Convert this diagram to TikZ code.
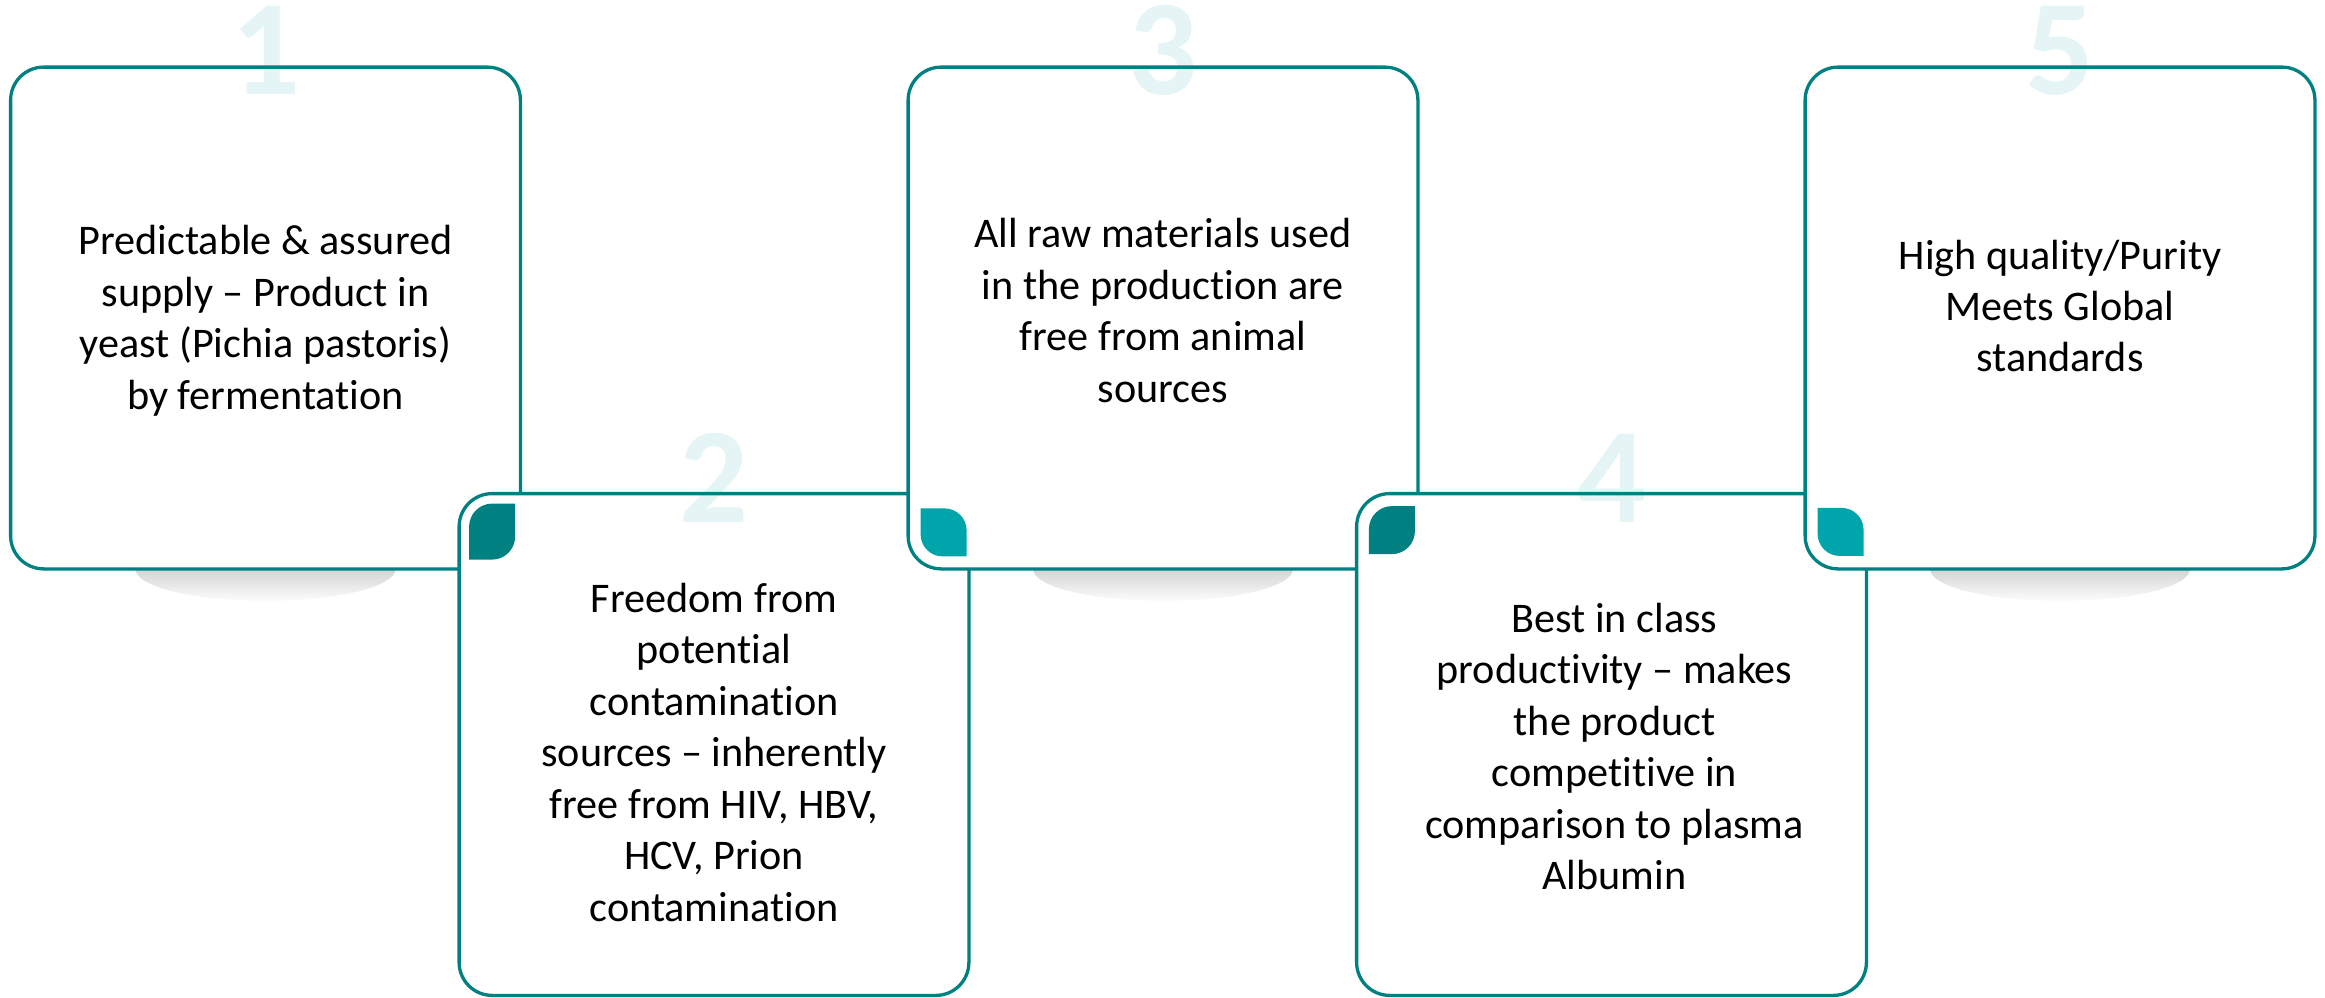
\documentclass[tikz,border=0pt]{standalone}
\usepackage{fontspec}
\setmainfont{Carlito}[Ligatures=NoCommon]
\usetikzlibrary{calc}
\definecolor{tealline}{RGB}{0,128,128}
\definecolor{leafdark}{RGB}{0,128,128}
\definecolor{leafcyan}{RGB}{0,165,172}
\definecolor{numcol}{RGB}{0,153,153}
\begin{document}
\begin{tikzpicture}[x=0.01cm,y=-0.01cm,
  card/.style={draw=tealline, line width=0.033cm, fill=white, rounded corners=0.33cm,
    minimum width=5.095cm, minimum height=5.015cm, inner sep=0pt, outer sep=0pt},
  cardtext/.style={align=center, inner sep=0pt, text=black,
    font=\fontsize{12}{14.62}\selectfont},
  num/.style={text=numcol, text opacity=0.1, anchor=base, inner sep=0pt,
    text height=0.64em, text depth=0pt,
    font=\fontsize{38.7}{46}\selectfont\bfseries},
  shadowfill/.style={top color=black!17, bottom color=black!1, draw=none},
  pics/leafA/.style={code={\fill[leafdark] (0,#1) -- (0,23) arc[start angle=180,end angle=270,radius=23] -- (46,0) -- (46,{#1-23}) arc[start angle=0,end angle=90,radius=23] -- cycle;}},
  pics/leafB/.style={code={\fill[leafcyan] (0,0) -- (24,0) arc[start angle=270,end angle=360,radius=22] -- (46,48) -- (22,48) arc[start angle=90,end angle=180,radius=22] -- cycle;}}
]
\useasboundingbox (0,0) rectangle (2325,997);

% box 1
\shade[shadowfill] (135.5,569) arc[start angle=180,end angle=0,x radius=130,y radius=32] -- cycle;
\node[card] (b1) at (265.5,318) {};
% box 2
\node[card] (b2) at (714,744.5) {};
\pic at ($(b2.north west)+(10,10)$) {leafA=56};
% box 3
\shade[shadowfill] (1033,569) arc[start angle=180,end angle=0,x radius=130,y radius=32] -- cycle;
\node[card] (b3) at (1163,318) {};
\pic at ($(b3.south west)+(12.5,-60.5)$) {leafB};
% box 4
\node[card] (b4) at (1611.5,744.5) {};
\pic at ($(b4.north west)+(12.3,12.5)$) {leafA=48};
% box 5
\shade[shadowfill] (1930,569) arc[start angle=180,end angle=0,x radius=130,y radius=32] -- cycle;
\node[card] (b5) at (2060,318) {};
\pic at ($(b5.south west)+(12.5,-61)$) {leafB};

% texts
\node[cardtext] (t1) at ($(b1.center)+(0,3.7)$) {\strut Predictable \& assured\\ supply – Product in\\ yeast (Pichia pastoris)\\ by fermentation\strut};
\node[cardtext] (t2) at ($(b2.center)+(0,12)$) {\strut Freedom from\\ potential\\ contamination\\ sources – inherently\\ free from HIV, HBV,\\ HCV, Prion\\ contamination\strut};
\node[cardtext] (t3) at ($(b3.center)+(0,-3.3)$) {\strut All raw materials used\\ in the production are\\ free from animal\\ sources\strut};
\node[cardtext] (t4) at ($(b4.center)+(3,6.2)$) {\strut Best in class\\ productivity – makes\\ the product\\ competitive in\\ comparison to plasma\\ Albumin\strut};
\node[cardtext] (t5) at ($(b5.center)+(0,-7.8)$) {\strut High quality/Purity\\ Meets Global\\ standards\strut};

% numbers
\node[num] (n1) at (265.5,95) {1};
\node[num] (n2) at (714,522) {2};
\node[num] (n3) at (1163,95) {3};
\node[num] (n4) at (1611.5,522) {4};
\node[num] (n5) at (2060,95) {5};
\end{tikzpicture}
\end{document}
